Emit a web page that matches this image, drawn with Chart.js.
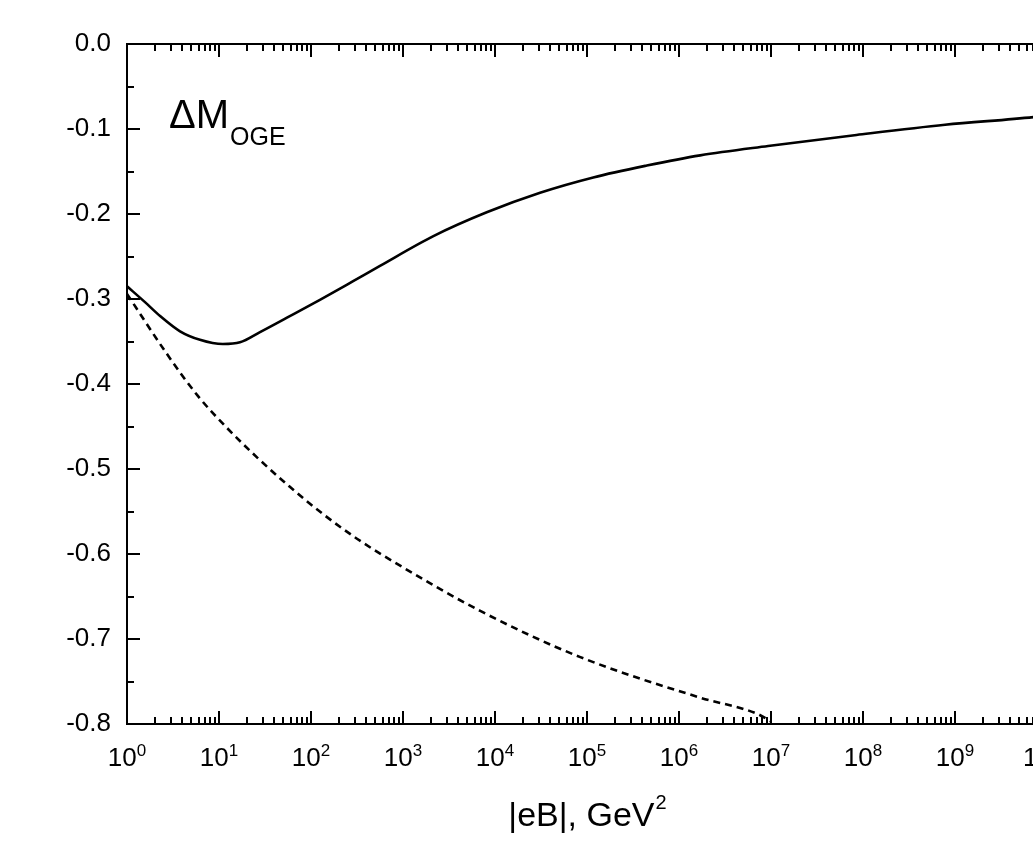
<!DOCTYPE html>
<html>
<head>
<meta charset="utf-8">
<script src="https://cdn.jsdelivr.net/npm/chart.js@4.4.1/dist/chart.umd.min.js"></script>
<style>
  html, body { margin: 0; padding: 0; background: #ffffff; overflow: hidden; }
  canvas { display: block; }
</style>
</head>
<body>
<canvas id="chart" width="1100" height="841" style="width:1100px;height:841px"></canvas>
<script>
const FONT = '"Liberation Sans", Arial, Helvetica, sans-serif';

// Magnetic field |eB| (GeV^2) and mass shift for the full curve
const eBFull = [1, 1.58, 2.29, 3.77, 6.21, 11.0, 16.9, 27.9, 54.8, 125, 287, 562, 2140, 8130,
  30900, 117000, 447000, 1.70e6, 9.3e6, 8.5e7, 7.8e8, 7.1e9, 1e10];
const deltaMFull = [-0.285, -0.304, -0.320, -0.338, -0.348, -0.353, -0.351, -0.339, -0.322, -0.301,
  -0.279, -0.261, -0.226, -0.198, -0.175, -0.157, -0.143, -0.131, -0.120, -0.107, -0.095, -0.086, -0.084];

// Mass shift for the dashed curve
const eBDashed = [1, 2.69, 5.89, 12.3, 25.7, 58.9, 135, 316, 759, 6920, 83200, 1.70e6, 7.08e6, 1.0e7];
const deltaMDashed = [-0.294, -0.364, -0.414, -0.452, -0.486, -0.521, -0.553, -0.582, -0.608,
  -0.667, -0.721, -0.769, -0.788, -0.797];

// Axis ranges and tick labels
const xDecades = [0, 1, 2, 3, 4, 5, 6, 7, 8, 9, 10];
const yMin = -0.8, yMax = 0.0, yStep = 0.1;
const xTitle = '|eB|, GeV';
const xTitleSup = '2';
const panelMain = '\u0394M';
const panelSub = 'OGE';

const toPoints = (xs, ys) => xs.map((x, i) => ({ x: x, y: ys[i] }));

const frameAndText = {
  id: 'frameAndText',
  afterDatasetsDraw(chart) {
    const { ctx, chartArea: a, scales: { x, y } } = chart;
    ctx.save();
    ctx.strokeStyle = '#000';
    ctx.fillStyle = '#000';
    ctx.lineWidth = 2;
    ctx.lineCap = 'butt';

    // frame
    ctx.beginPath();
    ctx.moveTo(a.left, a.top); ctx.lineTo(a.right, a.top);
    ctx.moveTo(a.left, a.bottom); ctx.lineTo(a.right, a.bottom);
    ctx.moveTo(a.left, a.top - 1); ctx.lineTo(a.left, a.bottom + 1);
    ctx.moveTo(a.right, a.top - 1); ctx.lineTo(a.right, a.bottom + 1);
    ctx.stroke();

    // log ticks on bottom and top, pointing inward
    ctx.beginPath();
    for (const d of xDecades) {
      for (let m = 1; m <= 9; m++) {
        const v = m * Math.pow(10, d);
        if (v > x.max * 1.0001) break;
        const px = Math.round(x.getPixelForValue(v));
        const len = m === 1 ? 13 : 7;
        ctx.moveTo(px, a.bottom); ctx.lineTo(px, a.bottom - len);
        ctx.moveTo(px, a.top); ctx.lineTo(px, a.top + len);
      }
    }
    // linear ticks on the left, major every 0.1 and minor every 0.05
    const nHalf = Math.round((yMax - yMin) / (yStep / 2));
    for (let i = 0; i <= nHalf; i++) {
      const v = yMin + i * yStep / 2;
      const py = Math.round(y.getPixelForValue(v));
      const len = i % 2 === 0 ? 13 : 7;
      ctx.moveTo(a.left, py); ctx.lineTo(a.left + len, py);
      ctx.moveTo(a.right, py); ctx.lineTo(a.right - len, py);
    }
    ctx.stroke();

    // x tick labels as 10^n
    const baseFont = '26px ' + FONT;
    const supFont = '17px ' + FONT;
    ctx.textBaseline = 'alphabetic';
    ctx.textAlign = 'left';
    for (const d of xDecades) {
      const px = x.getPixelForValue(Math.pow(10, d));
      ctx.font = baseFont;
      const w1 = ctx.measureText('10').width;
      ctx.font = supFont;
      const w2 = ctx.measureText(String(d)).width;
      const start = px - (w1 + w2) / 2;
      ctx.font = baseFont;
      ctx.fillText('10', start, a.bottom + 42);
      ctx.font = supFont;
      ctx.fillText(String(d), start + w1, a.bottom + 32);
    }

    // x axis title
    const cx = (a.left + a.right) / 2;
    ctx.font = '34px ' + FONT;
    const tw = ctx.measureText(xTitle).width;
    ctx.font = '20px ' + FONT;
    const sw = ctx.measureText(xTitleSup).width;
    const tx = cx - (tw + sw) / 2;
    ctx.font = '34px ' + FONT;
    ctx.fillText(xTitle, tx, a.bottom + 102);
    ctx.font = '20px ' + FONT;
    ctx.fillText(xTitleSup, tx + tw + 1, a.bottom + 85);

    // panel label
    ctx.font = '40px ' + FONT;
    ctx.fillText(panelMain, a.left + 42, a.top + 84);
    const mw = ctx.measureText(panelMain).width;
    ctx.font = '25px ' + FONT;
    ctx.fillText(panelSub, a.left + 42 + mw + 1, a.top + 101);

    ctx.restore();
  }
};

new Chart(document.getElementById('chart'), {
  type: 'line',
  data: {
    datasets: [
      {
        data: toPoints(eBFull, deltaMFull),
        borderColor: '#000',
        borderWidth: 2.6,
        pointRadius: 0,
        cubicInterpolationMode: 'monotone',
        fill: false
      },
      {
        data: toPoints(eBDashed, deltaMDashed),
        borderColor: '#000',
        borderWidth: 2.6,
        borderDash: [7, 5],
        pointRadius: 0,
        cubicInterpolationMode: 'monotone',
        fill: false
      }
    ]
  },
  options: {
    responsive: false,
    animation: false,
    layout: { padding: { top: 44, right: 53, left: 0, bottom: 0 } },
    plugins: { legend: { display: false }, tooltip: { enabled: false } },
    scales: {
      x: {
        type: 'logarithmic',
        min: 1,
        max: 1e10,
        ticks: { display: false },
        grid: { display: false, drawTicks: false },
        border: { display: false },
        afterFit(s) { s.height = 117; s.paddingLeft = 0; s.paddingRight = 0; }
      },
      y: {
        type: 'linear',
        min: yMin,
        max: yMax,
        ticks: {
          stepSize: yStep,
          color: '#000',
          padding: 16,
          font: { family: FONT, size: 26 },
          callback: (v) => (Math.abs(v) < 1e-9 ? '0.0' : v.toFixed(1))
        },
        grid: { display: false, drawTicks: false },
        border: { display: false },
        afterFit(s) { s.width = 127; s.paddingTop = 0; s.paddingBottom = 0; }
      }
    }
  },
  plugins: [frameAndText]
});
</script>
</body>
</html>
